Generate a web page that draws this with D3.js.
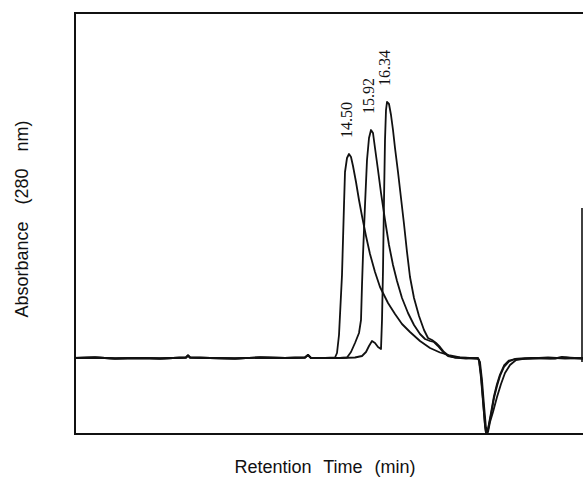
<!DOCTYPE html>
<html>
<head>
<meta charset="utf-8">
<script src="https://cdn.jsdelivr.net/npm/d3@7"></script>
<style>
  html, body { margin: 0; padding: 0; background: #fff; }
  svg { display: block; }
</style>
</head>
<body>
<svg id="chart" width="583" height="478"></svg>
<script>
// Absorbance at 280 nm (AU) against retention time (min) for three overlaid runs.
// Points are [time, absorbance].

// Flat baseline shared by all runs before elution starts
const leadBaseline = [
  [0, 0], [1.0, 0.002], [2.0, -0.002], [3.25, 0], [4.25, -0.002],
  [5.55, 0.002], [5.65, 0.010], [5.75, 0.002], [6.75, 0], [8.0, -0.002],
  [9.25, 0.002], [10.5, 0], [11.5, 0.002], [11.65, 0.012], [11.8, 0], [12.5, 0]
];

const runA = [
  [13.0, 0.002], [13.1, 0.020], [13.2, 0.092], [13.3, 0.252], [13.35, 0.332],
  [13.4, 0.472], [13.45, 0.612], [13.5, 0.744], [13.6, 0.800], [13.7, 0.816],
  [13.8, 0.804], [13.9, 0.768], [14.05, 0.704], [14.2, 0.632], [14.35, 0.568],
  [14.55, 0.488], [14.75, 0.416], [15.0, 0.344], [15.25, 0.284], [15.65, 0.220],
  [16.0, 0.176], [16.35, 0.136], [16.75, 0.104], [17.25, 0.068], [17.75, 0.040],
  [18.25, 0.022], [18.75, 0.010], [19.25, 0.002], [19.75, 0], [20.15, -0.002],
  [20.25, -0.016], [20.35, -0.088], [20.45, -0.188], [20.55, -0.280], [20.6, -0.300],
  [20.65, -0.296], [20.75, -0.256], [20.9, -0.216], [21.1, -0.156], [21.3, -0.104],
  [21.5, -0.060], [21.75, -0.028], [22.05, -0.008], [22.5, -0.002], [23.25, 0],
  [24.0, -0.002], [24.35, 0.004], [24.75, 0], [25.4, -0.002]
];

const runB = [
  [13.25, 0], [13.6, 0.002], [13.8, 0.024], [14.0, 0.060], [14.2, 0.100],
  [14.3, 0.152], [14.35, 0.292], [14.4, 0.412], [14.5, 0.612], [14.6, 0.792],
  [14.7, 0.880], [14.8, 0.912], [14.9, 0.900], [15.0, 0.840], [15.15, 0.752],
  [15.3, 0.660], [15.5, 0.552], [15.7, 0.452], [15.9, 0.372], [16.1, 0.308],
  [16.35, 0.240], [16.65, 0.180], [16.95, 0.132], [17.25, 0.096], [17.5, 0.076],
  [17.75, 0.068], [17.95, 0.064], [18.15, 0.048], [18.4, 0.024], [18.65, 0.008],
  [19.0, 0.002], [19.65, 0], [20.15, -0.002], [20.2, -0.008], [20.3, -0.068],
  [20.4, -0.168], [20.5, -0.268], [20.55, -0.300], [20.65, -0.288], [20.8, -0.228],
  [20.95, -0.160], [21.1, -0.112], [21.25, -0.072], [21.45, -0.036], [21.7, -0.014],
  [22.0, -0.004], [22.75, -0.002], [23.65, 0.002], [24.5, -0.002], [25.4, 0]
];

const runC = [
  [13.25, 0], [14.0, 0.002], [14.35, 0.008], [14.55, 0.024], [14.7, 0.048],
  [14.85, 0.068], [15.0, 0.060], [15.15, 0.044], [15.3, 0.036], [15.35, 0.152],
  [15.4, 0.352], [15.45, 0.632], [15.5, 0.872], [15.55, 0.992], [15.6, 1.024],
  [15.7, 1.016], [15.8, 0.972], [15.9, 0.912], [16.0, 0.840], [16.15, 0.744],
  [16.3, 0.640], [16.45, 0.536], [16.6, 0.424], [16.75, 0.324], [16.95, 0.240],
  [17.2, 0.168], [17.45, 0.112], [17.65, 0.080], [17.85, 0.072], [18.05, 0.060],
  [18.25, 0.044], [18.45, 0.024], [18.7, 0.008], [19.0, 0.002], [19.55, -0.002],
  [20.15, 0], [20.2, -0.012], [20.3, -0.080], [20.4, -0.176], [20.5, -0.272],
  [20.55, -0.300], [20.65, -0.284], [20.8, -0.220], [20.95, -0.152], [21.1, -0.104],
  [21.25, -0.066], [21.45, -0.030], [21.7, -0.010], [22.0, -0.004], [22.85, 0],
  [23.75, -0.002], [24.55, 0.002], [25.4, -0.002]
];

// Retention time printed above each peak
const peakLabels = ["14.50", "15.92", "16.34"];

const xTitle = "Retention Time (min)";
const yTitle = "Absorbance (280 nm)";

const runs = [runA, runB, runC].map(r => leadBaseline.concat(r));

const svg = d3.select("#chart");
const plot = { left: 75, right: 583, top: 13, bottom: 434 };

const x = d3.scaleLinear().domain([0, 25.4]).range([plot.left, plot.right]);
const y = d3.scaleLinear().domain([-0.304, 1.38]).range([plot.bottom, plot.top]);

// Frame: left, top and bottom edges; right edge only partially inked
const frame = svg.append("g")
  .attr("stroke", "#111").attr("stroke-width", 2).attr("fill", "none");
frame.append("path")
  .attr("d", `M${plot.right},${plot.top}H${plot.left}V${plot.bottom}H${plot.right}`);
frame.append("line")
  .attr("x1", plot.right - 1).attr("x2", plot.right - 1)
  .attr("y1", y(0.6)).attr("y2", y(-0.016))
  .attr("stroke-width", 1.6);

const line = d3.line()
  .x(d => x(d[0]))
  .y(d => y(d[1]))
  .curve(d3.curveLinear);

svg.append("g")
  .selectAll("path")
  .data(runs)
  .join("path")
  .attr("d", line)
  .attr("fill", "none")
  .attr("stroke", "#111")
  .attr("stroke-width", 1.8)
  .attr("stroke-linejoin", "round");

// Peak labels, rotated, just above each apex
svg.append("g")
  .selectAll("text")
  .data(runs.map((r, i) => ({ apex: d3.greatest(r, d => d[1]), label: peakLabels[i] })))
  .join("text")
  .attr("transform", d => `translate(${x(d.apex[0]) + 3},${y(d.apex[1]) - 16}) rotate(-90)`)
  .attr("font-family", "'Liberation Serif', 'Times New Roman', serif")
  .attr("font-size", 16)
  .attr("fill", "#111")
  .text(d => d.label);

// Axis titles
svg.append("text")
  .attr("x", 325).attr("y", 473)
  .attr("text-anchor", "middle")
  .attr("font-family", "'Liberation Sans', Arial, sans-serif")
  .attr("font-size", 18)
  .attr("word-spacing", 7)
  .attr("fill", "#111")
  .text(xTitle);

svg.append("text")
  .attr("transform", "translate(28,219) rotate(-90)")
  .attr("text-anchor", "middle")
  .attr("font-family", "'Liberation Sans', Arial, sans-serif")
  .attr("font-size", 18)
  .attr("word-spacing", 12)
  .attr("fill", "#111")
  .text(yTitle);
</script>
</body>
</html>
